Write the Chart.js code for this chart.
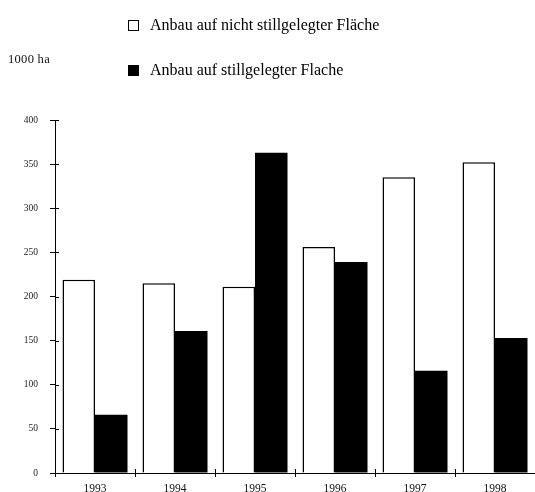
<!DOCTYPE html>
<html>
<head>
<meta charset="utf-8">
<script src="https://cdn.jsdelivr.net/npm/chart.js@4"></script>
<style>
html,body{margin:0;padding:0;background:#fff;}
#wrap{position:relative;width:535px;height:492px;overflow:hidden;font-family:"Liberation Serif","DejaVu Serif",serif;color:#111;}
canvas{position:absolute;left:0;top:0;}
.leg{position:absolute;font-size:16px;line-height:16px;white-space:nowrap;color:#000;}
.sw{position:absolute;width:11px;height:11px;box-sizing:border-box;}
#unit{position:absolute;left:8px;top:52px;font-size:12.5px;white-space:nowrap;letter-spacing:0.3px;}
</style>
</head>
<body>
<div id="wrap">
<canvas id="c" width="535" height="492"></canvas>
<div id="unit"></div>
<div id="legend"></div>
</div>
<script>
const categories = ["1993", "1994", "1995", "1996", "1997", "1998"];
const seriesNames = ["Anbau auf nicht stillgelegter Fläche", "Anbau auf stillgelegter Flache"];
const nichtStillgelegt = [219, 215, 211, 256, 335, 352];
const stillgelegt = [66, 161, 363, 239, 116, 153];
const yTicks = [0, 50, 100, 150, 200, 250, 300, 350, 400];
const unitLabel = "1000 ha";

document.getElementById('unit').textContent = unitLabel;

const fills = ['#ffffff', '#000000'];
const legendPos = [{x:128, y:20}, {x:128, y:65}];
const legend = document.getElementById('legend');
seriesNames.forEach((n, i) => {
  const sw = document.createElement('div');
  sw.className = 'sw';
  sw.style.left = legendPos[i].x + 'px';
  sw.style.top = legendPos[i].y + 'px';
  sw.style.background = fills[i];
  sw.style.border = '1px solid #000';
  legend.appendChild(sw);
  const t = document.createElement('div');
  t.className = 'leg';
  t.style.left = (legendPos[i].x + 22) + 'px';
  t.style.top = (legendPos[i].y - 3) + 'px';
  t.textContent = n;
  legend.appendChild(t);
});

const innerTicks = {
  id: 'innerTicks',
  afterDraw(chart) {
    const ctx = chart.ctx;
    const y = chart.scales.y, x = chart.scales.x;
    ctx.save();
    ctx.strokeStyle = '#000';
    ctx.lineWidth = 1;
    ctx.beginPath();
    yTicks.forEach(v => {
      const py = Math.round(y.getPixelForValue(v)) + 0.5;
      ctx.moveTo(chart.chartArea.left, py);
      ctx.lineTo(chart.chartArea.left + 4, py);
    });
    for (let i = 1; i < categories.length; i++) {
      const px = Math.round((x.getPixelForValue(i - 1) + x.getPixelForValue(i)) / 2) + 0.5;
      ctx.moveTo(px, chart.chartArea.bottom);
      ctx.lineTo(px, chart.chartArea.bottom - 4);
    }
    ctx.stroke();
    ctx.restore();
  }
};

new Chart(document.getElementById('c'), {
  type: 'bar',
  data: {
    labels: categories,
    datasets: [
      { label: seriesNames[0], data: nichtStillgelegt, backgroundColor: fills[0], borderColor: '#000', borderWidth: 1.5 },
      { label: seriesNames[1], data: stillgelegt, backgroundColor: fills[1], borderColor: '#000', borderWidth: 0 }
    ]
  },
  options: {
    responsive: false,
    animation: false,
    events: [],
    layout: { padding: { top: 120, right: 0, left: 0, bottom: 0 } },
    plugins: { legend: { display: false }, tooltip: { enabled: false } },
    datasets: { bar: { categoryPercentage: 0.8125, barPercentage: 1.0 } },
    scales: {
      x: {
        offset: true,
        grid: { display: true, offset: true, drawOnChartArea: false, tickLength: 4, color: '#000' },
        border: { display: true, color: '#000', width: 1 },
        ticks: { color: '#111', font: { family: 'Liberation Serif', size: 11.5 }, padding: 5, maxRotation: 0 },
        afterFit(s) { s.height = 19; }
      },
      y: {
        min: 0, max: 400,
        afterBuildTicks(s) { s.ticks = yTicks.map(v => ({ value: v })); },
        grid: { display: true, drawOnChartArea: false, tickLength: 5, color: '#000' },
        border: { display: true, color: '#000', width: 1 },
        ticks: { color: '#222', font: { family: 'Liberation Serif', size: 9.5 }, padding: 12 },
        afterFit(s) { s.width = 55; }
      }
    }
  },
  plugins: [innerTicks]
});
</script>
</body>
</html>
